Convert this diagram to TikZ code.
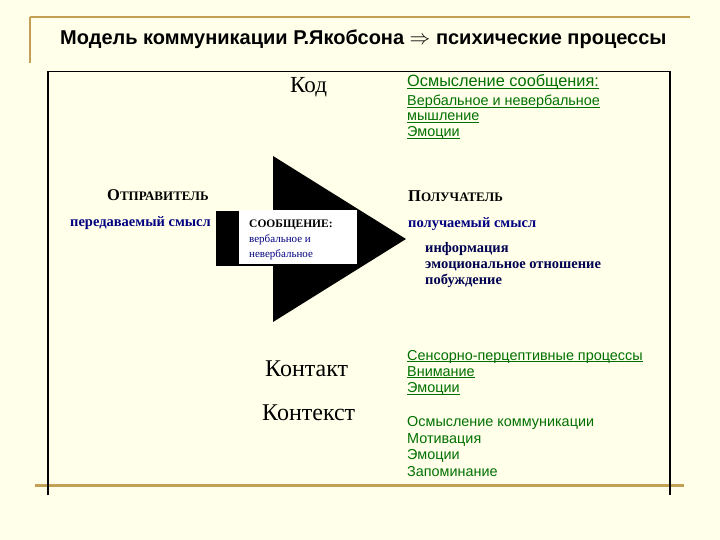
\documentclass[tikz,border=0pt]{standalone}
\usepackage{fontspec}
\setmainfont{Liberation Serif}
\setsansfont{Liberation Sans}
\definecolor{bgc}{RGB}{255,255,234}
\definecolor{gold}{RGB}{196,160,84}
\definecolor{grn}{RGB}{0,112,0}
\definecolor{navy}{RGB}{0,0,128}
\definecolor{dnavy}{RGB}{0,0,80}
\newcommand\gul[1]{\setbox0\hbox{#1}\rlap{\rule[-2pt]{\wd0}{0.8pt}}#1}
\tikzset{
  txt/.style={inner sep=0pt, anchor=base west},
  bigserif/.style={txt, font=\fontsize{24}{26}\selectfont},
  gtxt/.style={txt, text=grn, font=\sffamily\fontsize{14.4}{16}\selectfont},
  blu/.style={txt, text=navy, font=\bfseries\fontsize{14.5}{16}\selectfont},
  dblu/.style={txt, text=dnavy, font=\bfseries\fontsize{14.5}{16}\selectfont},
}
\begin{document}
\begin{tikzpicture}[x=1pt,y=-1pt]
\fill[bgc] (0,0) rectangle (720,540);
\useasboundingbox (0,0) rectangle (720,540);
% gold decoration
\draw[gold, line width=2pt] (30,17) -- (690,17);
\draw[gold, line width=2pt] (30,17) -- (30,63);
\draw[gold, line width=3pt] (35,485) -- (684,485);
% frame
\draw[black, line width=1.3pt] (48,495) -- (48,71.7) -- (670,71.7) -- (670,495);
% title
\node[txt, font=\sffamily\bfseries\fontsize{20}{22}\selectfont] (title) at (60,45)
  {Модель коммуникации Р.Якобсона $\Rightarrow$ психические процессы};
% arrow
\fill[black] (273,156) -- (406,239) -- (273,322) -- cycle;
\fill[black] (216,211) rectangle (300,266);
\fill[white] (239,210) rectangle (357,264);
% white box text
\node[txt, font=\bfseries\fontsize{11.5}{13}\selectfont] (msg) at (249,228) {СООБЩЕНИЕ:};
\node[txt, text=navy, font=\fontsize{11}{13}\selectfont] (msg2) at (249,243) {вербальное и};
\node[txt, text=navy, font=\fontsize{11}{13}\selectfont] (msg3) at (249,257) {невербальное};
% left
\node[txt, font=\bfseries] (sender) at (107,201)
  {{\fontsize{16.5}{18}\selectfont О}{\fontsize{13}{15}\selectfont ТПРАВИТЕЛЬ}};
\node[blu] (sent) at (70,226) {передаваемый смысл};
% right
\node[txt, font=\bfseries] (receiver) at (408,201.5)
  {{\fontsize{16.5}{18}\selectfont П}{\fontsize{13}{15}\selectfont ОЛУЧАТЕЛЬ}};
\node[blu] (recv) at (408,227) {получаемый смысл};
\node[dblu] (r1) at (425,252) {информация};
\node[dblu] (r2) at (425,268) {эмоциональное отношение};
\node[dblu] (r3) at (425,284.5) {побуждение};
% Code
\node[bigserif, font=\fontsize{23}{26}\selectfont] (kod) at (290,93) {Код};
\node[gtxt, font=\sffamily\fontsize{16.3}{18}\selectfont] (k1) at (407,87) {\gul{Осмысление сообщения:}};
\node[gtxt] (k2) at (407,105.5) {\gul{Вербальное и невербальное}};
\node[gtxt] (k3) at (407,121) {\gul{мышление}};
\node[gtxt] (k4) at (407,136.5) {\gul{Эмоции}};
% Contact
\node[bigserif] (kontakt) at (265,376) {Контакт};
\node[gtxt] (c1) at (407,360) {\gul{Сенсорно-перцептивные процессы}};
\node[gtxt] (c2) at (407,376) {\gul{Внимание}};
\node[gtxt] (c3) at (407,392.5) {\gul{Эмоции}};
% Context
\node[bigserif] (kontekst) at (262,420) {Контекст};
\node[gtxt] (x1) at (407,426.5) {Осмысление коммуникации};
\node[gtxt] (x2) at (407,443) {Мотивация};
\node[gtxt] (x3) at (407,459.5) {Эмоции};
\node[gtxt] (x4) at (407,476) {Запоминание};
\end{tikzpicture}
\end{document}
